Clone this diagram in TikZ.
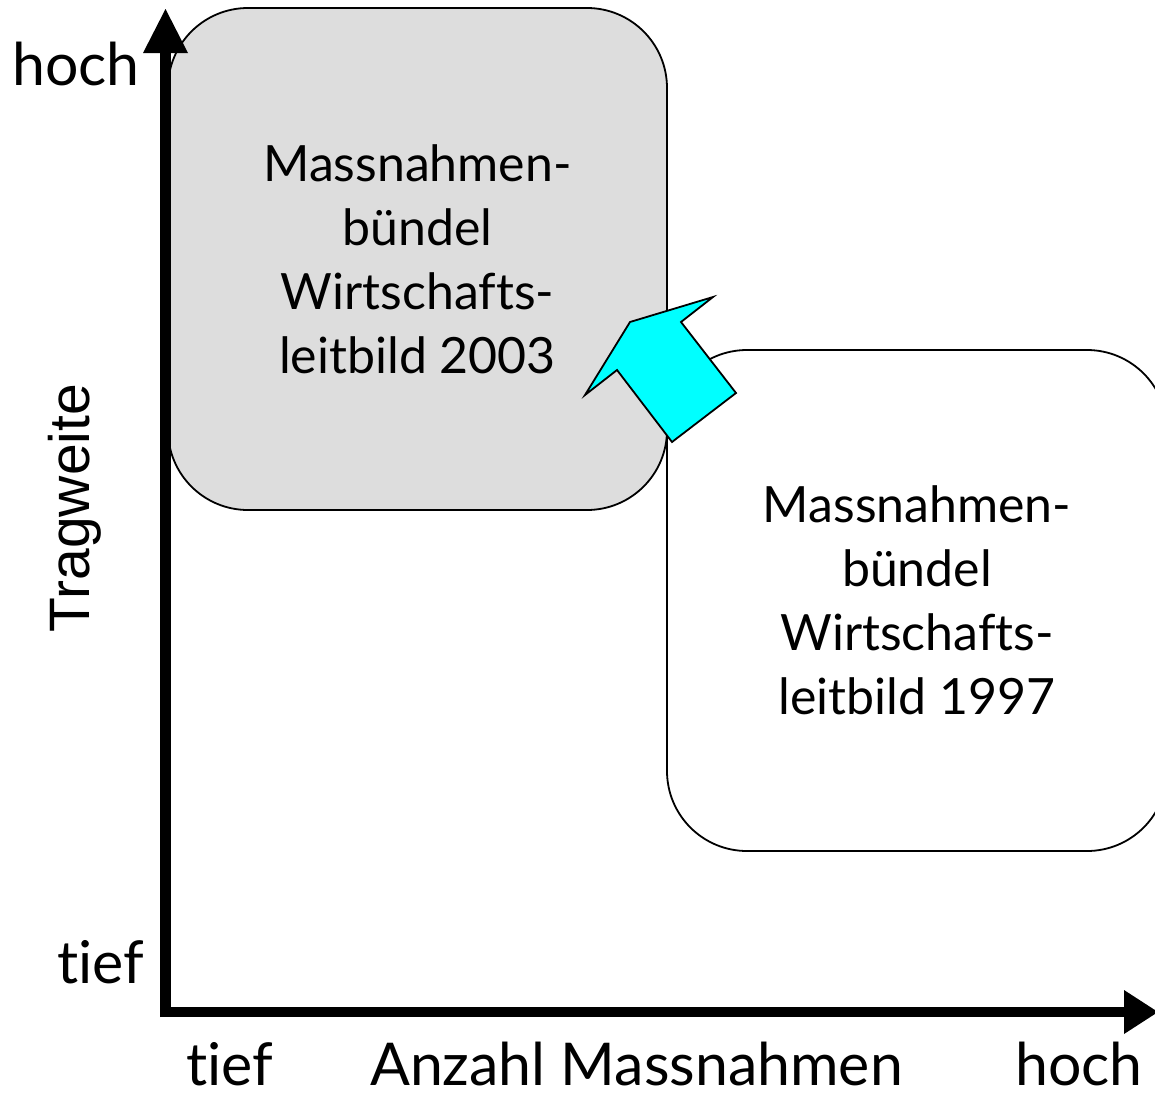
\documentclass[tikz,border=0pt]{standalone}
\usepackage{fontspec}
\setmainfont{Lato}[Ligatures={NoCommon}]
\newfontfamily\arialfont{Liberation Sans}
\definecolor{boxgray}{RGB}{221,221,221}
\definecolor{arrowcyan}{RGB}{0,255,255}
\begin{document}
\begin{tikzpicture}[x=1pt,y=-1pt,
  box/.style={draw=black, line width=1.8pt, rounded corners=80pt, align=center,
    font=\fontsize{50}{64}\selectfont, inner sep=0pt},
  lbl/.style={anchor=base, inner sep=0pt, text depth=0pt, font=\fontsize{59}{64}\selectfont},
  axis/.style={line width=10.5pt}]
\useasboundingbox (0,0) rectangle (1155,1095);
\clip (0,0) rectangle (1155,1095);
% boxes
\node[box, fill=boxgray, minimum width=499pt, minimum height=502pt] (b2003) at (417.5,259)
  {Massnahmen-\\bündel\\Wirtschafts-\\leitbild 2003};
\node[box, fill=white, minimum width=500pt, minimum height=501pt] (b1997) at (917,600.5)
  {Massnahmen-\\bündel\\Wirtschafts-\\leitbild 1997};
% axes
\coordinate (origin) at (165.5,1012);
\coordinate (ytop) at (165.5,53);
\coordinate (xend) at (1124,1012);
\draw[axis] ([yshift=-5pt]origin) -- (ytop);
\draw[axis] ([xshift=-5pt]origin) -- (xend);
\fill (143,53) -- (165.5,9) -- (188,53) -- cycle;
\fill (1124,990) -- (1158,1012) -- (1124,1034) -- cycle;
% cyan arrow
\filldraw[fill=arrowcyan, draw=black, line width=1.8pt, line join=miter]
  (585,395) -- (630,322) -- (713,297) -- (681,322) -- (736,393) -- (672,442) -- (617,370) -- cycle;
% labels
\node[lbl] (yhigh) at (76,85) {hoch};
\node[lbl] (ylow) at (101,983) {tief};
\node[lbl] (xlow) at (230,1085) {tief};
\node[lbl] (xtitle) at (636.5,1085) {Anzahl Massnahmen};
\node[lbl] (xhigh) at (1079,1085) {hoch};
\node[inner sep=0pt, rotate=90, font=\arialfont\fontsize{57}{60}\selectfont] (ytitle) at (75,508) {Tragweite};
\end{tikzpicture}
\end{document}
